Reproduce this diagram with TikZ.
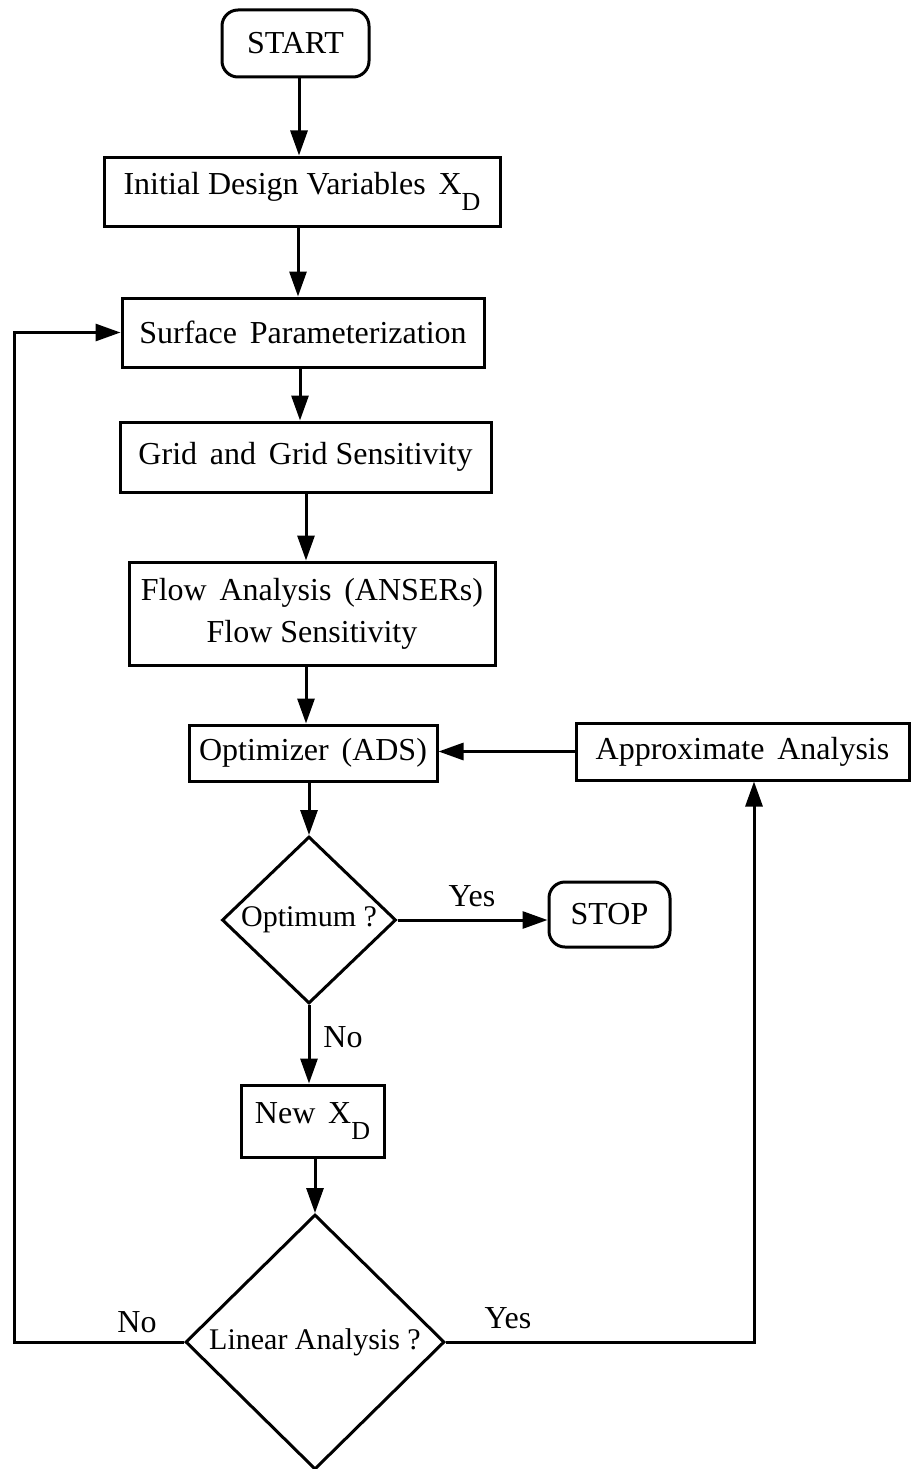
\documentclass[tikz,border=0pt]{standalone}
\usepackage{fontspec}
\setmainfont{Liberation Serif}
\usetikzlibrary{shapes.geometric,arrows.meta}
\newcommand{\xd}{X\raisebox{-0.5em}{\fontsize{26}{26}\selectfont D}}
\newcommand{\gap}{\hspace{0.4em}}
\begin{document}
\begin{tikzpicture}[x=1pt,y=-1pt,
  font=\fontsize{32}{42}\selectfont,
  box/.style={draw, line width=3pt, inner sep=0pt, align=center},
  term/.style={box, rounded corners=16pt},
  dec/.style={draw, diamond, line width=3pt, inner sep=0pt, font=\fontsize{30}{36}\selectfont},
  arr/.style={line width=3pt, -{Triangle[length=25pt,width=17pt]}},
  lbl/.style={inner sep=0pt}
]
\useasboundingbox (0,0) rectangle (911,1469);
\fill[white] (0,0) rectangle (911,1469);

\node[term, minimum width=147pt, minimum height=67pt] (start) at (295.5,43.5) {START};
\node[box, minimum width=396pt, minimum height=69pt] (init) at (302,191.5) {Initial Design Variables\gap\xd};
\node[box, minimum width=362pt, minimum height=69pt] (surf) at (303,332.5) {Surface\gap Parameterization};
\node[box, minimum width=371pt, minimum height=70pt] (grid) at (305.5,457) {Grid\gap and\gap Grid Sensitivity};
\node[box, minimum width=366pt, minimum height=103pt] (flow) at (312,613.5) {Flow\gap Analysis\gap (ANSERs)\\Flow Sensitivity};
\node[box, minimum width=248pt, minimum height=56pt] (opt) at (313,753) {Optimizer\gap (ADS)};
\node[box, minimum width=333pt, minimum height=57pt] (approx) at (742.5,751.5) {Approximate\gap Analysis};
\node[dec, minimum width=174pt, minimum height=167pt] (optimum) at (309,920) {\makebox[0pt]{Optimum ?}};
\node[term, minimum width=121pt, minimum height=65pt] (stop) at (609.5,914.5) {STOP};
\node[box, minimum width=143pt, minimum height=72pt] (newxd) at (312.5,1121) {New\gap\xd};
\node[dec, minimum width=259pt, minimum height=255pt] (linear) at (315,1342) {\makebox[0pt]{Linear Analysis ?}};

\draw[arr] ([xshift=3.5pt]start.south) -- ([xshift=-3pt]init.north);
\draw[arr] ([xshift=-4pt]init.south) -- ([xshift=-5pt]surf.north);
\draw[arr] ([xshift=-3pt]surf.south) -- ([xshift=-5.5pt]grid.north);
\draw[arr] ([xshift=0.5pt]grid.south) -- ([xshift=-6pt]flow.north);
\draw[arr] ([xshift=-6pt]flow.south) -- ([xshift=-7pt]opt.north);
\draw[arr] (opt.south -| optimum.north) -- (optimum.north);
\draw[arr] (optimum.south) -- (newxd.north -| optimum.south);
\draw[arr] (newxd.south -| linear.north) -- (linear.north);
\draw[arr] (approx.west) -- (opt.east |- approx.west);
\draw[arr] (optimum.east) -- (optimum.east -| stop.west);
\draw[arr] (linear.west) -- ++(-169.5,0) |- (surf.west);
\draw[arr] (linear.east) -| ([xshift=11.5pt]approx.south);

\node[lbl] (yes1) at (472,896) {Yes};
\node[lbl] (no1) at (343,1037) {No};
\node[lbl] (no2) at (137,1322) {No};
\node[lbl] (yes2) at (508,1318) {Yes};
\end{tikzpicture}
\end{document}
